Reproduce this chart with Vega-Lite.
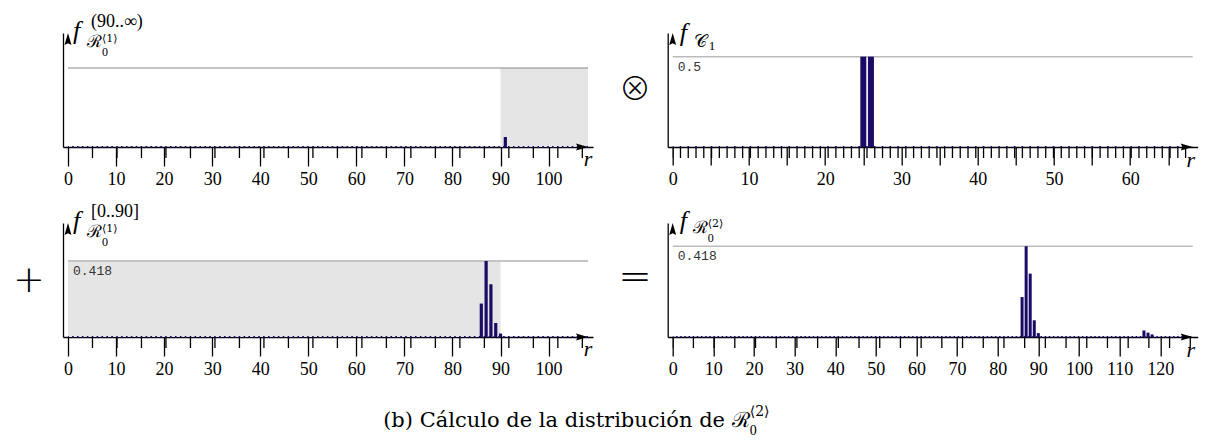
{
  "$schema": "https://vega.github.io/schema/vega-lite/v6.json",
  "autosize": "none",
  "padding": {"left": 63, "top": 33, "right": 1151, "bottom": 415},
  "background": "white",
  "datasets": {
    "tl": [{"r": 91, "p": 0.053}],
    "tr": [{"r": 25, "p": 0.5}, {"r": 26, "p": 0.5}],
    "bl": [{"r": 86, "p": 0.184}, {"r": 87, "p": 0.418}, {"r": 88, "p": 0.29}, {"r": 89, "p": 0.077}, {"r": 90, "p": 0.019}],
    "br": [{"r": 86, "p": 0.184}, {"r": 87, "p": 0.418}, {"r": 88, "p": 0.292}, {"r": 89, "p": 0.077}, {"r": 90, "p": 0.018}, {"r": 116, "p": 0.03}, {"r": 117, "p": 0.02}, {"r": 118, "p": 0.012}],
    "tl_meta": [{"x0": 0, "xmax": 108.2, "ytop": 0.603, "ymax": 0.418, "s0": 90, "s1": 108.2}],
    "tr_meta": [{"x0": 0, "xmax": 68.2, "ytop": 0.631, "ymax": 0.5}],
    "bl_meta": [{"x0": 0, "xmax": 108.2, "ytop": 0.627, "ymax": 0.418, "s0": 0, "s1": 90}],
    "br_meta": [{"x0": 0, "xmax": 128, "ytop": 0.525, "ymax": 0.418}]
  },
  "columns": 2,
  "spacing": {"row": 76, "column": 74.7},
  "bounds": "flush",
  "concat": [
    {
      "width": 530, "height": 114,
      "layer": [
        {"data": {"name": "tl_meta"}, "mark": {"type": "rect", "color": "#e5e5e5"},
         "encoding": {
           "x": {"field": "s0", "type": "quantitative", "scale": {"domain": [0, 108.2], "nice": false, "zero": false},
                 "axis": {"title": null, "values": [0,10,20,30,40,50,60,70,80,90,100], "tickCount": 1000, "format": "d",
                          "tickSize": 19, "labelPadding": 4}},
           "x2": {"field": "s1"},
           "y": {"field": "ymax", "type": "quantitative", "scale": {"domain": [0, 0.603], "nice": false}, "axis": {"title": null}},
           "y2": {"datum": 0}}},
        {"data": {"name": "tl_meta"}, "mark": {"type": "rule", "color": "#888888", "strokeWidth": 1.2},
         "encoding": {"x": {"field": "x0", "type": "quantitative"}, "x2": {"field": "xmax"}, "y": {"field": "ymax", "type": "quantitative"}}},
        {"data": {"name": "tl_meta"}, "mark": {"type": "rule", "color": "black", "strokeWidth": 11, "yOffset": 5.5, "strokeDash": [1.3, 23.1917], "strokeDashOffset": 0.65},
         "encoding": {"x": {"field": "x0", "type": "quantitative"}, "x2": {"field": "xmax"}, "y": {"datum": 0, "type": "quantitative"}}},
        {"data": {"name": "tl"}, "mark": {"type": "bar", "color": "#1b0b66", "width": 3.2},
         "encoding": {"x": {"field": "r", "type": "quantitative"}, "y": {"field": "p", "type": "quantitative"}}},
        {"data": {"name": "tl_meta"}, "mark": {"type": "rule", "color": "#1b0b66", "strokeWidth": 2.2, "strokeDash": [1.6, 3.2983], "strokeDashOffset": 0.8},
         "encoding": {"x": {"field": "x0", "type": "quantitative"}, "x2": {"field": "xmax"}, "y": {"datum": 0, "type": "quantitative"}}},
        {"data": {"name": "tl_meta"}, "mark": {"type": "point", "shape": "M0,0L-2,-0.58L-1.7,0L-2,0.58Z", "filled": true, "color": "black", "opacity": 1, "size": 144},
         "encoding": {"x": {"field": "xmax", "type": "quantitative"}, "y": {"datum": 0, "type": "quantitative"}}},
        {"data": {"name": "tl_meta"}, "mark": {"type": "point", "shape": "M0,0L-0.58,2L0,1.7L0.58,2Z", "filled": true, "color": "black", "opacity": 1, "size": 144},
         "encoding": {"x": {"datum": 0, "type": "quantitative"}, "y": {"field": "ytop", "type": "quantitative"}}},
        {"data": {"name": "tl_meta"}, "mark": {"type": "text", "text": "r", "font": "Liberation Serif", "fontStyle": "italic", "fontSize": 22, "align": "center", "baseline": "alphabetic", "dx": 0, "dy": 19, "color": "black"},
         "encoding": {"x": {"field": "xmax", "type": "quantitative"}, "y": {"datum": 0, "type": "quantitative"}}},
        {"data": {"name": "tl_meta"}, "mark": {"type": "text", "text": "f", "font": "Liberation Serif", "fontStyle": "italic", "fontSize": 26, "align": "left", "baseline": "alphabetic", "dx": 5, "dy": 5.5, "color": "black"},
         "encoding": {"x": {"datum": 0, "type": "quantitative"}, "y": {"field": "ytop", "type": "quantitative"}}},
        {"data": {"name": "tl_meta"}, "mark": {"type": "text", "text": "(90..∞)", "font": "Liberation Serif", "fontSize": 18, "align": "left", "baseline": "alphabetic", "dx": 23, "dy": -6, "color": "black"},
         "encoding": {"x": {"datum": 0, "type": "quantitative"}, "y": {"field": "ytop", "type": "quantitative"}}},
        {"data": {"name": "tl_meta"}, "mark": {"type": "text", "text": "ℛ", "font": "DejaVu Serif", "fontSize": 17, "align": "left", "baseline": "alphabetic", "dx": 19, "dy": 14, "color": "black"},
         "encoding": {"x": {"datum": 0, "type": "quantitative"}, "y": {"field": "ytop", "type": "quantitative"}}},
        {"data": {"name": "tl_meta"}, "mark": {"type": "text", "text": "⟨1⟩", "font": "DejaVu Serif", "fontSize": 11, "align": "left", "baseline": "alphabetic", "dx": 34, "dy": 9, "color": "black"},
         "encoding": {"x": {"datum": 0, "type": "quantitative"}, "y": {"field": "ytop", "type": "quantitative"}}},
        {"data": {"name": "tl_meta"}, "mark": {"type": "text", "text": "0", "font": "Liberation Serif", "fontSize": 12, "align": "left", "baseline": "alphabetic", "dx": 34, "dy": 23, "color": "black"},
         "encoding": {"x": {"datum": 0, "type": "quantitative"}, "y": {"field": "ytop", "type": "quantitative"}}}
      ]
    },
    {
      "width": 530, "height": 114,
      "layer": [
        {"data": {"name": "tr_meta"}, "mark": {"type": "rule", "color": "#bbbbbb", "strokeWidth": 1.5},
         "encoding": {
           "x": {"field": "x0", "type": "quantitative", "scale": {"domain": [0, 68.2], "nice": false, "zero": false},
                 "axis": {"title": null, "values": [0,5,10,15,20,25,30,35,40,45,50,55,60,65], "tickCount": 1000, "format": "d",
                          "tickSize": 18, "labelPadding": 5,
                          "labelExpr": "datum.value % 10 === 0 ? datum.label : ''"}},
           "x2": {"field": "xmax"},
           "y": {"field": "ymax", "type": "quantitative", "scale": {"domain": [0, 0.631], "nice": false}, "axis": {"title": null}}}},
        {"data": {"name": "tr_meta"}, "mark": {"type": "rule", "color": "black", "strokeWidth": 11, "yOffset": 5.5, "strokeDash": [1.3, 6.4713], "strokeDashOffset": 0.65},
         "encoding": {"x": {"field": "x0", "type": "quantitative"}, "x2": {"field": "xmax"}, "y": {"datum": 0, "type": "quantitative"}}},
        {"data": {"name": "tr"}, "mark": {"type": "bar", "color": "#1b0b66", "width": 6},
         "encoding": {"x": {"field": "r", "type": "quantitative"}, "y": {"field": "p", "type": "quantitative"}}},
        {"data": {"name": "tr_meta"}, "mark": {"type": "rule", "color": "#1b0b66", "strokeWidth": 2.2, "strokeDash": [1.6, 6.1713], "strokeDashOffset": 0.8},
         "encoding": {"x": {"field": "x0", "type": "quantitative"}, "x2": {"field": "xmax"}, "y": {"datum": 0, "type": "quantitative"}}},
        {"data": {"name": "tr_meta"}, "mark": {"type": "point", "shape": "M0,0L-2,-0.58L-1.7,0L-2,0.58Z", "filled": true, "color": "black", "opacity": 1, "size": 144},
         "encoding": {"x": {"field": "xmax", "type": "quantitative"}, "y": {"datum": 0, "type": "quantitative"}}},
        {"data": {"name": "tr_meta"}, "mark": {"type": "point", "shape": "M0,0L-0.58,2L0,1.7L0.58,2Z", "filled": true, "color": "black", "opacity": 1, "size": 144},
         "encoding": {"x": {"datum": 0, "type": "quantitative"}, "y": {"field": "ytop", "type": "quantitative"}}},
        {"data": {"name": "tr_meta"}, "mark": {"type": "text", "text": "r", "font": "Liberation Serif", "fontStyle": "italic", "fontSize": 22, "align": "center", "baseline": "alphabetic", "dx": -2, "dy": 20, "color": "black"},
         "encoding": {"x": {"field": "xmax", "type": "quantitative"}, "y": {"datum": 0, "type": "quantitative"}}},
        {"data": {"name": "tr_meta"}, "mark": {"type": "text", "text": "0.5", "font": "Liberation Mono", "fontSize": 13, "align": "left", "baseline": "alphabetic", "dx": 5, "dy": 14, "color": "#333333"},
         "encoding": {"x": {"datum": 0, "type": "quantitative"}, "y": {"field": "ymax", "type": "quantitative"}}},
        {"data": {"name": "tr_meta"}, "mark": {"type": "text", "text": "f", "font": "Liberation Serif", "fontStyle": "italic", "fontSize": 26, "align": "left", "baseline": "alphabetic", "dx": 7, "dy": 7.5, "color": "black"},
         "encoding": {"x": {"datum": 0, "type": "quantitative"}, "y": {"field": "ytop", "type": "quantitative"}}},
        {"data": {"name": "tr_meta"}, "mark": {"type": "text", "text": "𝒞", "font": "DejaVu Serif", "fontSize": 18, "align": "left", "baseline": "alphabetic", "dx": 21, "dy": 14, "color": "black"},
         "encoding": {"x": {"datum": 0, "type": "quantitative"}, "y": {"field": "ytop", "type": "quantitative"}}},
        {"data": {"name": "tr_meta"}, "mark": {"type": "text", "text": "1", "font": "Liberation Serif", "fontSize": 13, "align": "left", "baseline": "alphabetic", "dx": 36, "dy": 17, "color": "black"},
         "encoding": {"x": {"datum": 0, "type": "quantitative"}, "y": {"field": "ytop", "type": "quantitative"}}},
        {"data": {"name": "tr_meta"}, "mark": {"type": "text", "text": "⊗", "font": "Noto Sans CJK JP", "fontWeight": 300, "fontSize": 32, "align": "center", "baseline": "middle", "dx": -37.7, "dy": 57, "color": "black"},
         "encoding": {"x": {"datum": 0, "type": "quantitative"}, "y": {"field": "ytop", "type": "quantitative"}}}
      ]
    },
    {
      "width": 530, "height": 114,
      "layer": [
        {"data": {"name": "bl_meta"}, "mark": {"type": "rect", "color": "#e5e5e5"},
         "encoding": {
           "x": {"field": "s0", "type": "quantitative", "scale": {"domain": [0, 108.2], "nice": false, "zero": false},
                 "axis": {"title": null, "values": [0,10,20,30,40,50,60,70,80,90,100], "tickCount": 1000, "format": "d",
                          "tickSize": 19, "labelPadding": 4}},
           "x2": {"field": "s1"},
           "y": {"field": "ymax", "type": "quantitative", "scale": {"domain": [0, 0.627], "nice": false}, "axis": {"title": null}},
           "y2": {"datum": 0}}},
        {"data": {"name": "bl_meta"}, "mark": {"type": "rule", "color": "#c4c4c4", "strokeWidth": 2},
         "encoding": {"x": {"field": "x0", "type": "quantitative"}, "x2": {"field": "xmax"}, "y": {"field": "ymax", "type": "quantitative"}}},
        {"data": {"name": "bl_meta"}, "mark": {"type": "rule", "color": "black", "strokeWidth": 11, "yOffset": 5.5, "strokeDash": [1.3, 23.1917], "strokeDashOffset": 0.65},
         "encoding": {"x": {"field": "x0", "type": "quantitative"}, "x2": {"field": "xmax"}, "y": {"datum": 0, "type": "quantitative"}}},
        {"data": {"name": "bl"}, "mark": {"type": "bar", "color": "#1b0b66", "width": 3.2},
         "encoding": {"x": {"field": "r", "type": "quantitative"}, "y": {"field": "p", "type": "quantitative"}}},
        {"data": {"name": "bl_meta"}, "mark": {"type": "rule", "color": "#1b0b66", "strokeWidth": 2.2, "strokeDash": [1.6, 3.2983], "strokeDashOffset": 0.8},
         "encoding": {"x": {"field": "x0", "type": "quantitative"}, "x2": {"field": "xmax"}, "y": {"datum": 0, "type": "quantitative"}}},
        {"data": {"name": "bl_meta"}, "mark": {"type": "point", "shape": "M0,0L-2,-0.58L-1.7,0L-2,0.58Z", "filled": true, "color": "black", "opacity": 1, "size": 144},
         "encoding": {"x": {"field": "xmax", "type": "quantitative"}, "y": {"datum": 0, "type": "quantitative"}}},
        {"data": {"name": "bl_meta"}, "mark": {"type": "point", "shape": "M0,0L-0.58,2L0,1.7L0.58,2Z", "filled": true, "color": "black", "opacity": 1, "size": 144},
         "encoding": {"x": {"datum": 0, "type": "quantitative"}, "y": {"field": "ytop", "type": "quantitative"}}},
        {"data": {"name": "bl_meta"}, "mark": {"type": "text", "text": "r", "font": "Liberation Serif", "fontStyle": "italic", "fontSize": 22, "align": "center", "baseline": "alphabetic", "dx": 0, "dy": 19, "color": "black"},
         "encoding": {"x": {"field": "xmax", "type": "quantitative"}, "y": {"datum": 0, "type": "quantitative"}}},
        {"data": {"name": "bl_meta"}, "mark": {"type": "text", "text": "0.418", "font": "Liberation Mono", "fontSize": 13, "align": "left", "baseline": "alphabetic", "dx": 5, "dy": 14, "color": "#333333"},
         "encoding": {"x": {"datum": 0, "type": "quantitative"}, "y": {"field": "ymax", "type": "quantitative"}}},
        {"data": {"name": "bl_meta"}, "mark": {"type": "text", "text": "f", "font": "Liberation Serif", "fontStyle": "italic", "fontSize": 26, "align": "left", "baseline": "alphabetic", "dx": 5, "dy": 5.5, "color": "black"},
         "encoding": {"x": {"datum": 0, "type": "quantitative"}, "y": {"field": "ytop", "type": "quantitative"}}},
        {"data": {"name": "bl_meta"}, "mark": {"type": "text", "text": "[0..90]", "font": "Liberation Serif", "fontSize": 18, "align": "left", "baseline": "alphabetic", "dx": 23, "dy": -6, "color": "black"},
         "encoding": {"x": {"datum": 0, "type": "quantitative"}, "y": {"field": "ytop", "type": "quantitative"}}},
        {"data": {"name": "bl_meta"}, "mark": {"type": "text", "text": "ℛ", "font": "DejaVu Serif", "fontSize": 17, "align": "left", "baseline": "alphabetic", "dx": 19, "dy": 14, "color": "black"},
         "encoding": {"x": {"datum": 0, "type": "quantitative"}, "y": {"field": "ytop", "type": "quantitative"}}},
        {"data": {"name": "bl_meta"}, "mark": {"type": "text", "text": "⟨1⟩", "font": "DejaVu Serif", "fontSize": 11, "align": "left", "baseline": "alphabetic", "dx": 34, "dy": 9, "color": "black"},
         "encoding": {"x": {"datum": 0, "type": "quantitative"}, "y": {"field": "ytop", "type": "quantitative"}}},
        {"data": {"name": "bl_meta"}, "mark": {"type": "text", "text": "0", "font": "Liberation Serif", "fontSize": 12, "align": "left", "baseline": "alphabetic", "dx": 34, "dy": 23, "color": "black"},
         "encoding": {"x": {"datum": 0, "type": "quantitative"}, "y": {"field": "ytop", "type": "quantitative"}}},
        {"data": {"name": "bl_meta"}, "mark": {"type": "text", "text": "+", "font": "DejaVu Sans", "fontWeight": 200, "fontSize": 38, "align": "center", "baseline": "middle", "dx": -39, "dy": 58, "color": "black"},
         "encoding": {"x": {"datum": 0, "type": "quantitative"}, "y": {"field": "ytop", "type": "quantitative"}}}
      ]
    },
    {
      "width": 530, "height": 114,
      "layer": [
        {"data": {"name": "br_meta"}, "mark": {"type": "rule", "color": "#bbbbbb", "strokeWidth": 1.5},
         "encoding": {
           "x": {"field": "x0", "type": "quantitative", "scale": {"domain": [0, 128], "nice": false, "zero": false},
                 "axis": {"title": null, "values": [0,10,20,30,40,50,60,70,80,90,100,110,120], "tickCount": 1000, "format": "d",
                          "tickSize": 19, "labelPadding": 4}},
           "x2": {"field": "xmax"},
           "y": {"field": "ymax", "type": "quantitative", "scale": {"domain": [0, 0.525], "nice": false}, "axis": {"title": null}}}},
        {"data": {"name": "br_meta"}, "mark": {"type": "rule", "color": "black", "strokeWidth": 11, "yOffset": 5.5, "strokeDash": [1.3, 19.403], "strokeDashOffset": 0.65},
         "encoding": {"x": {"field": "x0", "type": "quantitative"}, "x2": {"field": "xmax"}, "y": {"datum": 0, "type": "quantitative"}}},
        {"data": {"name": "br"}, "mark": {"type": "bar", "color": "#1b0b66", "width": 3},
         "encoding": {"x": {"field": "r", "type": "quantitative"}, "y": {"field": "p", "type": "quantitative"}}},
        {"data": {"name": "br_meta"}, "mark": {"type": "rule", "color": "#1b0b66", "strokeWidth": 2.2, "strokeDash": [1.5, 2.6406], "strokeDashOffset": 0.75},
         "encoding": {"x": {"field": "x0", "type": "quantitative"}, "x2": {"field": "xmax"}, "y": {"datum": 0, "type": "quantitative"}}},
        {"data": {"name": "br_meta"}, "mark": {"type": "point", "shape": "M0,0L-2,-0.58L-1.7,0L-2,0.58Z", "filled": true, "color": "black", "opacity": 1, "size": 144},
         "encoding": {"x": {"field": "xmax", "type": "quantitative"}, "y": {"datum": 0, "type": "quantitative"}}},
        {"data": {"name": "br_meta"}, "mark": {"type": "point", "shape": "M0,0L-0.58,2L0,1.7L0.58,2Z", "filled": true, "color": "black", "opacity": 1, "size": 144},
         "encoding": {"x": {"datum": 0, "type": "quantitative"}, "y": {"field": "ytop", "type": "quantitative"}}},
        {"data": {"name": "br_meta"}, "mark": {"type": "text", "text": "r", "font": "Liberation Serif", "fontStyle": "italic", "fontSize": 22, "align": "center", "baseline": "alphabetic", "dx": -2, "dy": 20, "color": "black"},
         "encoding": {"x": {"field": "xmax", "type": "quantitative"}, "y": {"datum": 0, "type": "quantitative"}}},
        {"data": {"name": "br_meta"}, "mark": {"type": "text", "text": "0.418", "font": "Liberation Mono", "fontSize": 13, "align": "left", "baseline": "alphabetic", "dx": 5, "dy": 14, "color": "#333333"},
         "encoding": {"x": {"datum": 0, "type": "quantitative"}, "y": {"field": "ymax", "type": "quantitative"}}},
        {"data": {"name": "br_meta"}, "mark": {"type": "text", "text": "f", "font": "Liberation Serif", "fontStyle": "italic", "fontSize": 26, "align": "left", "baseline": "alphabetic", "dx": 7, "dy": 5.5, "color": "black"},
         "encoding": {"x": {"datum": 0, "type": "quantitative"}, "y": {"field": "ytop", "type": "quantitative"}}},
        {"data": {"name": "br_meta"}, "mark": {"type": "text", "text": "ℛ", "font": "DejaVu Serif", "fontSize": 17, "align": "left", "baseline": "alphabetic", "dx": 20, "dy": 10, "color": "black"},
         "encoding": {"x": {"datum": 0, "type": "quantitative"}, "y": {"field": "ytop", "type": "quantitative"}}},
        {"data": {"name": "br_meta"}, "mark": {"type": "text", "text": "⟨2⟩", "font": "DejaVu Serif", "fontSize": 11, "align": "left", "baseline": "alphabetic", "dx": 35, "dy": 4, "color": "black"},
         "encoding": {"x": {"datum": 0, "type": "quantitative"}, "y": {"field": "ytop", "type": "quantitative"}}},
        {"data": {"name": "br_meta"}, "mark": {"type": "text", "text": "0", "font": "Liberation Serif", "fontSize": 12, "align": "left", "baseline": "alphabetic", "dx": 35, "dy": 19, "color": "black"},
         "encoding": {"x": {"datum": 0, "type": "quantitative"}, "y": {"field": "ytop", "type": "quantitative"}}},
        {"data": {"name": "br_meta"}, "mark": {"type": "text", "text": "=", "font": "DejaVu Sans", "fontWeight": 200, "fontSize": 40, "align": "center", "baseline": "middle", "dx": -37.7, "dy": 55, "color": "black"},
         "encoding": {"x": {"datum": 0, "type": "quantitative"}, "y": {"field": "ytop", "type": "quantitative"}}},
        {"data": {"name": "br_meta"}, "mark": {"type": "text", "text": "(b) Cálculo de la distribución de ℛ", "font": "DejaVu Serif", "fontSize": 21, "align": "right", "baseline": "alphabetic", "dx": 77, "dy": 90, "color": "black"},
         "encoding": {"x": {"datum": 0, "type": "quantitative"}, "y": {"datum": 0, "type": "quantitative"}}},
        {"data": {"name": "br_meta"}, "mark": {"type": "text", "text": "⟨2⟩", "font": "DejaVu Serif", "fontSize": 14, "align": "left", "baseline": "alphabetic", "dx": 77, "dy": 79, "color": "black"},
         "encoding": {"x": {"datum": 0, "type": "quantitative"}, "y": {"datum": 0, "type": "quantitative"}}},
        {"data": {"name": "br_meta"}, "mark": {"type": "text", "text": "0", "font": "Liberation Serif", "fontSize": 14, "align": "left", "baseline": "alphabetic", "dx": 77, "dy": 98, "color": "black"},
         "encoding": {"x": {"datum": 0, "type": "quantitative"}, "y": {"datum": 0, "type": "quantitative"}}}
      ]
    }
  ],
  "config": {
    "view": {"stroke": null},
    "axis": {"grid": false, "domainColor": "black", "domainWidth": 1.3, "tickColor": "black", "tickWidth": 1.3,
             "labelFont": "Liberation Serif", "labelFontSize": 18, "labelColor": "black", "labelOverlap": false, "labelFlush": false},
    "axisY": {"labels": false, "ticks": false}
  }
}
